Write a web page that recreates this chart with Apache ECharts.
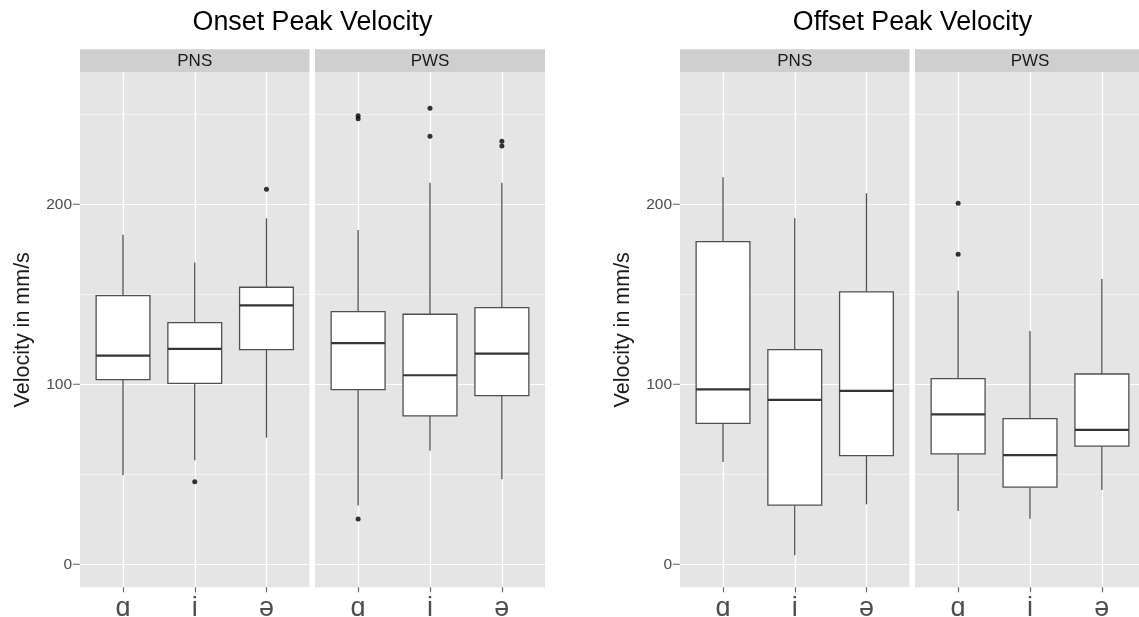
<!DOCTYPE html>
<html>
<head>
<meta charset="utf-8">
<script src="https://cdn.jsdelivr.net/npm/echarts@6/dist/echarts.min.js"></script>
<style>
html,body{margin:0;padding:0;background:#fff}
#chart{width:1139px;height:617px}
</style>
</head>
<body>
<div id="chart"></div>
<script>
var categories = ['ɑ', 'i', 'ə'];
var facets = ['PNS', 'PWS'];
var titles = ['Onset Peak Velocity', 'Offset Peak Velocity'];
var yLabel = 'Velocity in mm/s';

// [min, Q1, median, Q3, max] for ɑ, i, ə
var onsetPNS = [[49.4, 102.6, 115.9, 149.2, 183.0], [57.8, 100.5, 119.6, 134.2, 167.6], [70.3, 119.2, 143.8, 153.9, 192.2]];
var onsetPWS = [[32.6, 97.0, 122.8, 140.3, 185.7], [63.1, 82.4, 105.0, 138.9, 212.0], [47.2, 93.7, 117.0, 142.6, 212.0]];
var offsetPNS = [[56.8, 78.3, 97.2, 179.2, 215.0], [5.0, 32.8, 91.3, 119.2, 192.2], [33.3, 60.3, 96.3, 151.3, 206.1]];
var offsetPWS = [[29.6, 61.3, 83.3, 103.1, 152.0], [25.3, 42.8, 60.6, 80.9, 129.6], [41.3, 65.6, 74.6, 105.7, 158.5]];

// outliers: [category index, value]
var onsetPNSOut = [[1, 45.9], [2, 208.3]];
var onsetPWSOut = [[0, 25.2], [0, 247.5], [0, 249.2], [1, 253.3], [1, 237.8], [2, 235.0], [2, 232.4]];
var offsetPNSOut = [];
var offsetPWSOut = [[0, 200.5], [0, 172.2]];

var yMin = -12.8, yMax = 273.3;

var FONT = '"Liberation Sans", Arial, sans-serif';
var panelTop = 72.3, panelH = 515, stripTop = 49.3, stripH = 23;
var panels = [
  {left: 80, width: 229.5, boxes: onsetPNS, out: onsetPNSOut, facet: 0, first: true},
  {left: 315, width: 230, boxes: onsetPWS, out: onsetPWSOut, facet: 1, first: false},
  {left: 680, width: 229.5, boxes: offsetPNS, out: offsetPNSOut, facet: 0, first: true},
  {left: 915, width: 230, boxes: offsetPWS, out: offsetPWSOut, facet: 1, first: false}
];

function renderBox(params, api) {
  var c = api.value(0);
  var lo = api.coord([c, api.value(1)]);
  var q1 = api.coord([c, api.value(2)]);
  var md = api.coord([c, api.value(3)]);
  var q3 = api.coord([c, api.value(4)]);
  var hi = api.coord([c, api.value(5)]);
  var half = api.size([1, 0])[0] * 0.375;
  var x = lo[0];
  var edge = {stroke: '#505050', lineWidth: 1.3};
  return {
    type: 'group',
    children: [
      {type: 'line', shape: {x1: x, y1: hi[1], x2: x, y2: q3[1]}, style: edge},
      {type: 'line', shape: {x1: x, y1: q1[1], x2: x, y2: lo[1]}, style: edge},
      {type: 'rect', shape: {x: x - half, y: q3[1], width: half * 2, height: q1[1] - q3[1]},
        style: {fill: '#fff', stroke: '#505050', lineWidth: 1.3}},
      {type: 'line', shape: {x1: x - half, y1: md[1], x2: x + half, y2: md[1]},
        style: {stroke: '#333', lineWidth: 2.2}}
    ]
  };
}

var grids = [], xAxes = [], yAxes = [], series = [], graphics = [];

panels.forEach(function (p, i) {
  var gA = 2 * i, gB = 2 * i + 1;
  // A: full panel, background + horizontal grid + y labels
  grids.push({left: p.left, width: p.width, top: panelTop, height: panelH, outerBoundsMode: 'none',
    show: true, backgroundColor: '#e5e5e5', borderWidth: 0});
  // B: ggplot discrete axis has 0.6 expansion each side, so bands sit inside the panel
  var inset = p.width * 0.03125;
  grids.push({left: p.left + inset, width: p.width - 2 * inset, top: panelTop, height: panelH,
    outerBoundsMode: 'none'});

  graphics.push({type: 'rect', silent: true,
    shape: {x: p.left, y: stripTop, width: p.width, height: stripH}, style: {fill: '#cfcfcf'}});
  graphics.push({type: 'text', silent: true,
    style: {text: facets[p.facet], x: p.left + p.width / 2, y: stripTop + stripH / 2 + 0.5,
      align: 'center', verticalAlign: 'middle', fontSize: 17, fontFamily: FONT, fill: '#1a1a1a'}});

  xAxes.push({type: 'value', gridIndex: gA, show: false});
  xAxes.push({
    type: 'category', gridIndex: gB, data: categories,
    axisLine: {show: false, onZero: false},
    axisTick: {show: true, alignWithLabel: true, length: 5, lineStyle: {color: '#666', width: 1.2}},
    axisLabel: {fontSize: 27, color: '#4d4d4d', fontFamily: FONT, margin: 8},
    splitLine: {show: true, alignWithLabel: true, lineStyle: {color: '#ffffff', width: 1.3}}
  });

  yAxes.push({
    type: 'value', gridIndex: gA, min: yMin, max: yMax, splitNumber: 6,
    name: p.first ? yLabel : '',
    nameLocation: 'middle', nameGap: 46,
    nameTextStyle: {fontSize: 21.5, color: '#1a1a1a', fontFamily: FONT},
    axisLine: {show: false},
    axisTick: {show: false},
    axisLabel: {
      show: p.first, margin: 0,
      formatter: function (v) { return v % 100 === 0 ? '{v|' + v + '}{t| }' : ''; },
      rich: {
        v: {fontSize: 15.5, color: '#4d4d4d', fontFamily: FONT, padding: [0, 1, 0, 0]},
        t: {width: 7, height: 1, backgroundColor: '#666'}
      }
    },
    splitLine: {show: true, showMinLine: false, showMaxLine: false,
      lineStyle: {color: ['#ffffff', '#f2f2f2'], width: 1.2}}
  });
  yAxes.push({type: 'value', gridIndex: gB, min: yMin, max: yMax, show: false, splitLine: {show: false}});

  series.push({
    type: 'custom', xAxisIndex: gB, yAxisIndex: gB,
    renderItem: renderBox,
    encode: {x: 0, y: [1, 2, 3, 4, 5]},
    data: p.boxes.map(function (b, k) { return [k].concat(b); })
  });
  series.push({
    type: 'scatter', xAxisIndex: gB, yAxisIndex: gB,
    symbolSize: 5, itemStyle: {color: '#000'},
    data: p.out
  });
});

var chart = echarts.init(document.getElementById('chart'));
chart.setOption({
  backgroundColor: '#ffffff',
  animation: false,
  title: [
    {text: titles[0], left: 312.5, top: 9, textAlign: 'center', padding: 0,
      textStyle: {fontSize: 26.8, fontWeight: 'normal', color: '#000', fontFamily: FONT}},
    {text: titles[1], left: 912.5, top: 9, textAlign: 'center', padding: 0,
      textStyle: {fontSize: 26.8, fontWeight: 'normal', color: '#000', fontFamily: FONT}}
  ],
  grid: grids,
  xAxis: xAxes,
  yAxis: yAxes,
  series: series,
  graphic: graphics
});
</script>
</body>
</html>
